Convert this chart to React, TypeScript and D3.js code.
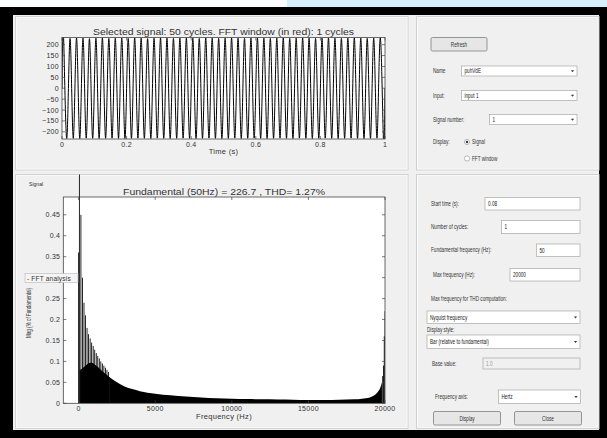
import React, { useEffect, useRef } from 'react'
import * as d3 from 'd3'

// selected signal: positive / negative peak of each of the 50 cycles
const posPeaks = [
  230, 229, 231, 230, 228, 230, 231, 229, 230, 230,
  229, 231, 230, 228, 230, 231, 230, 229, 230, 231,
  230, 229, 231, 230, 229, 230, 231, 230, 229, 230,
  231, 230, 229, 230, 231, 229, 230, 231, 230, 229,
  230, 231, 230, 229, 230, 231, 230, 229, 230, 231,
]
const negPeaks = [
  -229, -230, -231, -229, -230, -231, -230, -229, -230, -231,
  -230, -229, -230, -231, -229, -230, -231, -230, -229, -230,
  -231, -230, -229, -230, -231, -230, -229, -231, -230, -229,
  -230, -231, -230, -229, -230, -231, -229, -230, -231, -230,
  -229, -230, -231, -230, -229, -230, -231, -230, -229, -230,
]
const timeTicks = [0, 0.2, 0.4, 0.6, 0.8, 1]
const signalTicks = [-200, -150, -100, -50, 0, 50, 100, 150, 200]

// FFT bars, % of fundamental, harmonic order = index (50 Hz steps)
const fundamentalHz = 50
const lowMags = [
  0.36, 100, 0.08, 0.45, 0.082, 0.3, 0.085, 0.24, 0.088, 0.21,
  0.091, 0.18, 0.094, 0.165, 0.096, 0.155, 0.097, 0.145, 0.096, 0.137,
  0.094, 0.128, 0.091, 0.12, 0.088, 0.113, 0.085, 0.107, 0.081, 0.1,
  0.078, 0.095, 0.075, 0.09, 0.072, 0.085, 0.069, 0.08, 0.066, 0.075,
  0.063,
]
// dense part of the spectrum (bars too thin to separate)
const tailHz = [
  2000, 2500, 3000, 3500, 4000, 5000, 6000, 7000, 8000, 9000,
  10000, 11000, 12000, 13000, 14000, 15000, 16000, 17000, 18000, 18500,
  19000, 19250, 19500, 19700, 19800,
]
const tailMags = [
  0.063, 0.05, 0.04, 0.034, 0.029, 0.023, 0.019, 0.016, 0.014, 0.012,
  0.011, 0.01, 0.0095, 0.009, 0.0085, 0.008, 0.008, 0.0085, 0.0095, 0.011,
  0.014, 0.018, 0.026, 0.038, 0.05,
]
const edgeOrders = [397, 398, 399, 400]
const edgeMags = [0.065, 0.09, 0.16, 0.22]
const freqTicks = [0, 5000, 10000, 15000, 20000]
const magTicks = [0, 0.05, 0.1, 0.15, 0.2, 0.25, 0.3, 0.35, 0.4, 0.45]
// 0.3 label sits under the "FFT analysis" tag in the original
const hiddenMagLabels = [0.3]

const plotFont = '"Liberation Sans", Arial, Helvetica, sans-serif'
const uiFont = '"Liberation Sans", Arial, sans-serif'

const App = () => {
  const ref = useRef<SVGSVGElement>(null)

  useEffect(() => {
    const svg = d3.select(ref.current)
    svg.selectAll('*').remove()

    // window frame
    svg.append('rect').attr('width', 607).attr('height', 438).attr('fill', '#000')
    svg.append('rect').attr('width', 607).attr('height', 7).attr('fill', '#fbfdfe')
    svg.append('rect').attr('x', 287).attr('width', 320).attr('height', 7).attr('fill', '#d4f0fb')
    svg.append('rect').attr('x', 13).attr('y', 15).attr('width', 586).attr('height', 415).attr('fill', '#f0f0f0')

    const panel = (x0, y0, x1, y1) => {
      svg.append('rect').attr('x', x0).attr('y', y0).attr('width', x1 - x0).attr('height', y1 - y0)
        .attr('fill', '#f0f0f0').attr('stroke', '#d2d2d2').attr('stroke-width', 1)
      svg.append('rect').attr('x', x0 + 1).attr('y', y0 + 1).attr('width', x1 - x0 - 2).attr('height', y1 - y0 - 2)
        .attr('fill', 'none').attr('stroke', '#fafafa').attr('stroke-width', 0.8)
    }
    panel(15.5, 16.5, 408, 170)
    panel(416.5, 16.5, 599, 170)
    panel(15.5, 174.5, 408, 428.5)
    panel(416.5, 174.5, 599, 428.5)

    const text = (g, x, y, s, size, opts: any = {}) => {
      const t = g.append('text').attr('font-family', opts.font || plotFont)
        .attr('font-size', size).attr('fill', opts.fill || '#222')
        .attr('text-anchor', opts.anchor || 'start').attr('dominant-baseline', 'central')
        .text(s)
      if (opts.sx) t.attr('transform', `translate(${x},${y}) scale(${opts.sx},1)`)
      else t.attr('x', x).attr('y', y)
      return t
    }

    const boxAxes = (g, x, y, xTicks, yTicks, fmtX, fmtY, skipY = []) => {
      const [l, r] = x.range()
      const [b, t] = y.range()
      g.append('rect').attr('x', l).attr('y', t).attr('width', r - l).attr('height', b - t)
        .attr('fill', 'none').attr('stroke', '#444').attr('stroke-width', 0.8)
      xTicks.forEach(v => {
        const px = x(v)
        g.append('line').attr('x1', px).attr('x2', px).attr('y1', b).attr('y2', b - 3).attr('stroke', '#444').attr('stroke-width', 0.7)
        g.append('line').attr('x1', px).attr('x2', px).attr('y1', t).attr('y2', t + 3).attr('stroke', '#444').attr('stroke-width', 0.7)
        text(g, px, b + 5.5, fmtX(v), 7, { anchor: 'middle', fill: '#333' }).attr('letter-spacing', 0.3)
      })
      yTicks.forEach(v => {
        const py = y(v)
        g.append('line').attr('x1', l).attr('x2', l + 3).attr('y1', py).attr('y2', py).attr('stroke', '#444').attr('stroke-width', 0.7)
        g.append('line').attr('x1', r).attr('x2', r - 3).attr('y1', py).attr('y2', py).attr('stroke', '#444').attr('stroke-width', 0.7)
        if (!skipY.includes(v)) text(g, l - 3, py, fmtY(v), 7, { anchor: 'end', fill: '#333' }).attr('letter-spacing', 0.3)
      })
    }

    // ---- top plot: selected signal
    const tx = d3.scaleLinear().domain([0, 1]).range([62, 385])
    const ty = d3.scaleLinear().domain([-233, 233]).range([139, 37.5])
    const top = svg.append('g')
    top.append('rect').attr('x', 62).attr('y', 37.5).attr('width', 323).attr('height', 101.5).attr('fill', '#fff')
    svg.append('clipPath').attr('id', 'clipTop').append('rect')
      .attr('x', 62).attr('y', 37.5).attr('width', 323).attr('height', 101.5)
    const pts: [number, number][] = [[0, 0]]
    posPeaks.forEach((p, k) => {
      pts.push([(k + 0.25) / posPeaks.length, p])
      pts.push([(k + 0.75) / posPeaks.length, negPeaks[k]])
    })
    pts.push([1, 0])
    const line = d3.line<[number, number]>().x(d => tx(d[0])).y(d => ty(d[1])).curve(d3.curveNatural)
    top.append('path').attr('d', line(pts)).attr('fill', 'none').attr('stroke', '#000')
      .attr('stroke-width', 1).attr('clip-path', 'url(#clipTop)')
    boxAxes(top, tx, ty, timeTicks, signalTicks, d3.format('~g'), d3.format('~g'))
    text(top, 223.5, 31.5, 'Selected signal: 50 cycles. FFT window (in red): 1 cycles', 9, { anchor: 'middle', fill: '#333' })
      .attr('textLength', 261).attr('lengthAdjust', 'spacingAndGlyphs')
    text(top, 223.5, 151.5, 'Time (s)', 7.5, { anchor: 'middle', fill: '#333' }).attr('letter-spacing', 0.3)

    // ---- bottom plot: FFT spectrum
    const fx = d3.scaleLinear().domain([-1000, 20000]).range([63.3, 385])
    const fy = d3.scaleLinear().domain([0, 0.4925]).range([403.3, 197])
    const bot = svg.append('g')
    bot.append('rect').attr('x', 63.3).attr('y', 197).attr('width', 321.7).attr('height', 206.3).attr('fill', '#fff')
    svg.append('clipPath').attr('id', 'clipBot').append('rect')
      .attr('x', 63.3).attr('y', 174.5).attr('width', 321.7).attr('height', 228.8)
    const bw = (fx(fundamentalHz) - fx(0)) * 1.1
    const bars = bot.append('g').attr('clip-path', 'url(#clipBot)')
    // solid base under the low-order bars (even orders)
    const evenIdx = lowMags.map((d, i) => i).filter(i => i >= 2 && i % 2 === 0)
    bars.append('path')
      .attr('d', d3.area<number>().x(i => fx(i * fundamentalHz)).y0(fy(0)).y1(i => fy(lowMags[i])).curve(d3.curveMonotoneX)(evenIdx))
      .attr('fill', '#000')
    bars.append('path')
      .attr('d', d3.area<number>().x((d, i) => fx(tailHz[i])).y0(fy(0)).y1(d => fy(d)).curve(d3.curveMonotoneX)(tailMags))
      .attr('fill', '#000')
    bars.selectAll('rect.low').data(lowMags).join('rect').attr('class', 'low')
      .attr('x', (d, i) => fx(i * fundamentalHz) - bw / 2).attr('width', bw)
      .attr('y', d => fy(d)).attr('height', d => fy(0) - fy(d)).attr('fill', '#000')
    bars.selectAll('rect.edge').data(edgeMags).join('rect').attr('class', 'edge')
      .attr('x', (d, i) => fx(edgeOrders[i] * fundamentalHz) - bw / 2).attr('width', bw)
      .attr('y', d => fy(d)).attr('height', d => fy(0) - fy(d)).attr('fill', '#000')
    boxAxes(bot, fx, fy, freqTicks, magTicks, d3.format('d'), d3.format('~g'), hiddenMagLabels)
    text(bot, 224, 192, 'Fundamental (50Hz) = 226.7 , THD= 1.27%', 9, { anchor: 'middle', fill: '#333' })
      .attr('textLength', 202).attr('lengthAdjust', 'spacingAndGlyphs')
    text(bot, 224, 416.5, 'Frequency (Hz)', 7.5, { anchor: 'middle', fill: '#333' }).attr('letter-spacing', 0.3)
    text(bot, 29, 184, 'Signal', 6, { font: uiFont, sx: 0.85, fill: '#333' })
    text(bot, 0, 0, 'Mag (% of Fundamental)', 6.5, { font: uiFont, fill: '#333' })
      .attr('transform', 'translate(28.5,338) rotate(-90) scale(0.7,1)')
    bot.append('rect').attr('x', 25).attr('y', 273.5).attr('width', 53).attr('height', 9)
      .attr('fill', '#f4f4f4').attr('stroke', '#b8b8b8').attr('stroke-width', 0.6)
    text(bot, 27, 278, '- FFT analysis', 6.5, { font: plotFont, fill: '#333' }).attr('letter-spacing', 0.2)

    // ---- controls
    const ui = svg.append('g')
    const label = (x, y, s, fill = '#333') => text(ui, x, y, s, 6.3, { font: uiFont, fill, sx: 0.74 })
    const field = (x0, y0, x1, y1, s, disabled = false) => {
      ui.append('rect').attr('x', x0).attr('y', y0).attr('width', x1 - x0).attr('height', y1 - y0)
        .attr('fill', disabled ? '#f0f0f0' : '#fff').attr('stroke', '#a8a8a8').attr('stroke-width', 0.7)
      label(x0 + 3, (y0 + y1) / 2, s, disabled ? '#9a9a9a' : '#222')
    }
    const popup = (x0, y0, x1, y1, s) => {
      field(x0, y0, x1, y1, s)
      const cx = x1 - 4.5, cy = (y0 + y1) / 2
      ui.append('path').attr('d', `M${cx - 1.6},${cy - 0.8}L${cx + 1.6},${cy - 0.8}L${cx},${cy + 1.2}Z`).attr('fill', '#333')
    }
    const button = (x0, y0, x1, y1, s) => {
      ui.append('rect').attr('x', x0).attr('y', y0).attr('width', x1 - x0).attr('height', y1 - y0).attr('rx', 1.5)
        .attr('fill', '#e6e6e6').attr('stroke', '#7d7d7d').attr('stroke-width', 0.8)
      text(ui, (x0 + x1) / 2, (y0 + y1) / 2, s, 6.3, { font: uiFont, anchor: 'middle', sx: 0.74, fill: '#333' })
    }
    const radio = (cx, cy, on, s) => {
      ui.append('circle').attr('cx', cx).attr('cy', cy).attr('r', 2.6).attr('fill', '#fff').attr('stroke', '#8c8c8c').attr('stroke-width', 0.6)
      if (on) ui.append('circle').attr('cx', cx).attr('cy', cy).attr('r', 1.2).attr('fill', '#333')
      label(cx + 5, cy, s)
    }

    button(431, 37.5, 487, 51, 'Refresh')
    label(433, 71, 'Name')
    popup(461.5, 66, 577, 76, 'puhVdE')
    label(433, 95.5, 'Input:')
    popup(461.5, 90.5, 577, 100.5, 'input 1')
    label(433, 119.5, 'Signal number:')
    popup(489.5, 114.5, 577, 124.5, '1')
    label(433, 142, 'Display:')
    radio(467, 142, true, 'Signal')
    radio(467, 158.5, false, 'FFT window')

    label(431, 204, 'Start time (s):')
    field(485, 197.5, 580, 210, '0.08')
    label(431, 227, 'Number of cycles:')
    field(501.5, 220.5, 580, 233.5, '1')
    label(431, 250, 'Fundamental frequency (Hz):')
    field(536.5, 244, 580, 256.5, '50')
    label(433, 275, 'Max frequency (Hz):')
    field(510, 268.5, 580, 281, '20000')
    label(431, 298.5, 'Max frequency for THD computation:')
    popup(427, 311, 580, 323.5, 'Nyquist frequency')
    label(427, 329.5, 'Display style:')
    popup(427, 335, 580, 348.5, 'Bar (relative to fundamental)')
    label(432, 363.5, 'Base value:')
    field(483, 358, 580, 369, '1.0', true)
    label(435, 397, 'Frequency axis:')
    popup(498.5, 390, 580.5, 403.5, 'Hertz')
    button(433.5, 411.5, 500.5, 425, 'Display')
    button(514.5, 411.5, 581.5, 425, 'Close')
  }, [])

  return <svg ref={ref} width={607} height={438} style={{ position: 'absolute', left: 0, top: 0 }} />
}

export default App
